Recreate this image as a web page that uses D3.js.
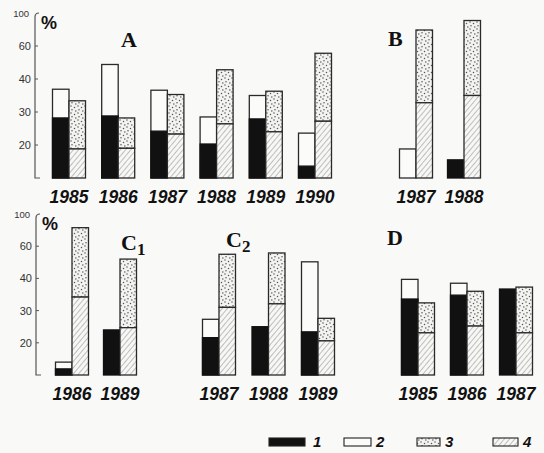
<!DOCTYPE html>
<html>
<head>
<meta charset="utf-8">
<script src="https://cdn.jsdelivr.net/npm/d3@7"></script>
<style>
  body { margin: 0; background: #f9f9f8; }
  svg { display: block; }
  text.tick { font-family: "Liberation Sans", Arial, sans-serif; fill: #333; }
  text.year { font-family: "Liberation Sans", Arial, sans-serif; font-weight: bold; font-style: italic; fill: #111; }
  text.panel { font-family: "Liberation Serif", "DejaVu Serif", serif; font-weight: bold; fill: #111; }
  text.pct { font-family: "Liberation Sans", Arial, sans-serif; font-weight: bold; fill: #111; }
  text.leg { font-family: "Liberation Sans", Arial, sans-serif; font-weight: bold; font-style: italic; fill: #111; }
</style>
</head>
<body>
<script>
// y axis levels (non-linear scale of the original figure)
var levels = [10, 20, 30, 40, 60, 100];
var tickLabels = ['20', '30', '40', '60', '100'];

// panel A
var yearsA = [1985, 1986, 1987, 1988, 1989, 1990];
var blackA = [28.2, 28.8, 24.2, 20.3, 27.9, 13.6];
var whiteA = [36.9, 48.8, 36.6, 28.5, 35.0, 23.6];
var hatchA = [18.8, 19.0, 23.3, 26.4, 24.0, 27.2];
var dotsA  = [33.4, 28.2, 35.3, 45.6, 36.3, 55.6];

// panel B
var yearsB = [1987, 1988];
var blackB = [0, 15.5];
var whiteB = [18.8, 15.5];
var hatchB = [32.8, 35.0];
var dotsB  = [79.4, 90.9];

// panel C1
var yearsC1 = [1986, 1989];
var blackC1 = [11.9, 24.0];
var whiteC1 = [14.0, 24.0];
var hatchC1 = [34.2, 24.7];
var dotsC1  = [83.0, 52.0];

// panel C2
var yearsC2 = [1987, 1988, 1989];
var blackC2 = [21.6, 25.0, 23.4];
var whiteC2 = [27.3, 25.0, 50.3];
var hatchC2 = [31.0, 32.1, 20.6];
var dotsC2  = [55.0, 55.8, 27.6];

// panel D
var yearsD = [1985, 1986, 1987];
var blackD = [33.6, 34.8, 36.7];
var whiteD = [39.7, 38.5, 36.7];
var hatchD = [23.1, 25.2, 23.1];
var dotsD  = [32.4, 36.0, 37.3];

var legendLabels = ['1', '2', '3', '4'];

var W = 544, H = 453;
var svg = d3.select('body').append('svg').attr('width', W).attr('height', H);

var defs = svg.append('defs');
var dp = defs.append('pattern').attr('id', 'dots').attr('patternUnits', 'userSpaceOnUse')
  .attr('width', 7).attr('height', 7);
dp.append('rect').attr('width', 7).attr('height', 7).attr('fill', '#f3f3f1');
[[1, 1], [4.5, 2.5], [2, 4.8], [5.8, 6]].forEach(function(p) {
  dp.append('circle').attr('cx', p[0]).attr('cy', p[1]).attr('r', 0.75).attr('fill', '#555');
});
var hp = defs.append('pattern').attr('id', 'hatch').attr('patternUnits', 'userSpaceOnUse')
  .attr('width', 4).attr('height', 4).attr('patternTransform', 'rotate(40)');
hp.append('rect').attr('width', 4).attr('height', 4).attr('fill', '#f7f7f5');
hp.append('line').attr('x1', 0).attr('y1', 0).attr('x2', 0).attr('y2', 4)
  .attr('stroke', '#777').attr('stroke-width', 0.9);

var rows = [
  { base: 178, top: 13, axisX: 35 },
  { base: 375, top: 214, axisX: 36 }
];
rows.forEach(function(r) {
  r.y = d3.scaleLinear().domain(levels)
    .range(levels.map(function(d, i) { return r.base - i * (r.base - r.top) / (levels.length - 1); }))
    .clamp(true);
});

function drawAxis(r) {
  var g = svg.append('g');
  g.append('path')
    .attr('d', 'M' + (r.axisX + 4) + ',' + r.top + ' Q' + r.axisX + ',' + r.top + ' ' + r.axisX + ',' + (r.top + 4) +
      ' L' + r.axisX + ',' + r.base + ' L' + (r.axisX + 5) + ',' + r.base)
    .attr('fill', 'none').attr('stroke', '#555').attr('stroke-width', 1.2);
  var ticks = levels.slice(1);
  ticks.forEach(function(v, i) {
    var yy = r.y(v);
    if (v !== 100) {
      g.append('line').attr('x1', r.axisX).attr('x2', r.axisX + 3).attr('y1', yy).attr('y2', yy)
        .attr('stroke', '#555').attr('stroke-width', 1);
    }
    g.append('text').attr('class', 'tick')
      .attr('x', v === 100 ? r.axisX - 6 : r.axisX - 4).attr('y', yy + 4)
      .attr('text-anchor', 'end')
      .style('font-size', v === 100 ? '9.5px' : '11px')
      .text(tickLabels[i]);
  });
  g.append('text').attr('class', 'pct').attr('x', r.axisX + 6).attr('y', r.top + 16)
    .style('font-size', '18px').text('%');
}
rows.forEach(drawAxis);

var BW = 16.5;

function drawPanel(row, years, black, white, hatch, dots, c0, step) {
  var r = rows[row];
  var x = d3.scalePoint().domain(years).range([c0, c0 + step * (years.length - 1)]);
  var g = svg.append('g');
  years.forEach(function(yr, i) {
    var cx = x(yr);
    // left bar: black (1) + white (2)
    if (white[i] > black[i]) {
      g.append('rect').attr('x', cx - BW).attr('width', BW)
        .attr('y', r.y(white[i])).attr('height', r.base - r.y(white[i]))
        .attr('fill', '#fbfbfa').attr('stroke', '#2a2a2a').attr('stroke-width', 1.3);
    }
    if (black[i] > levels[0]) {
      g.append('rect').attr('x', cx - BW).attr('width', BW)
        .attr('y', r.y(black[i])).attr('height', r.base - r.y(black[i]))
        .attr('fill', '#111').attr('stroke', '#111').attr('stroke-width', 1.3);
    }
    // right bar: hatched (4) + dotted (3)
    g.append('rect').attr('x', cx).attr('width', BW)
      .attr('y', r.y(dots[i])).attr('height', r.y(hatch[i]) - r.y(dots[i]))
      .attr('fill', 'url(#dots)').attr('stroke', '#2a2a2a').attr('stroke-width', 1.3);
    g.append('rect').attr('x', cx).attr('width', BW)
      .attr('y', r.y(hatch[i])).attr('height', r.base - r.y(hatch[i]))
      .attr('fill', 'url(#hatch)').attr('stroke', '#2a2a2a').attr('stroke-width', 1.3);
    g.append('text').attr('class', 'year')
      .attr('x', cx).attr('y', r.base + 25).attr('text-anchor', 'middle')
      .attr('textLength', 39).attr('lengthAdjust', 'spacingAndGlyphs')
      .style('font-size', '18px').text(yr);
  });
}

drawPanel(0, yearsA, blackA, whiteA, hatchA, dotsA, 69, 49.2);
drawPanel(0, yearsB, blackB, whiteB, hatchB, dotsB, 416, 48);
drawPanel(1, yearsC1, blackC1, whiteC1, hatchC1, dotsC1, 72, 48);
drawPanel(1, yearsC2, blackC2, whiteC2, hatchC2, dotsC2, 219, 49.5);
drawPanel(1, yearsD, blackD, whiteD, hatchD, dotsD, 418, 49);

function panelLabel(x, y, main, sub) {
  var t = svg.append('text').attr('class', 'panel').attr('x', x).attr('y', y)
    .style('font-size', '22px').text(main);
  if (sub) {
    t.append('tspan').attr('dy', 5).style('font-size', '17px').text(sub);
  }
}
panelLabel(121, 47, 'A');
panelLabel(388, 46, 'B');
panelLabel(121, 250, 'C', '1');
panelLabel(226, 247, 'C', '2');
panelLabel(387, 245, 'D');

// legend
var legend = [
  { x: 269, w: 36, fill: '#111' },
  { x: 344, w: 27, fill: '#fbfbfa' },
  { x: 417, w: 23, fill: 'url(#dots)' },
  { x: 493, w: 25, fill: 'url(#hatch)' }
];
var lg = svg.append('g');
legend.forEach(function(d, i) {
  lg.append('rect').attr('x', d.x).attr('y', 438).attr('width', d.w).attr('height', 8)
    .attr('fill', d.fill).attr('stroke', '#222').attr('stroke-width', 1.1);
  lg.append('text').attr('class', 'leg').attr('x', d.x + d.w + (i === 0 ? 8 : 5)).attr('y', 447)
    .style('font-size', '15px').text(legendLabels[i]);
});
</script>
</body>
</html>
